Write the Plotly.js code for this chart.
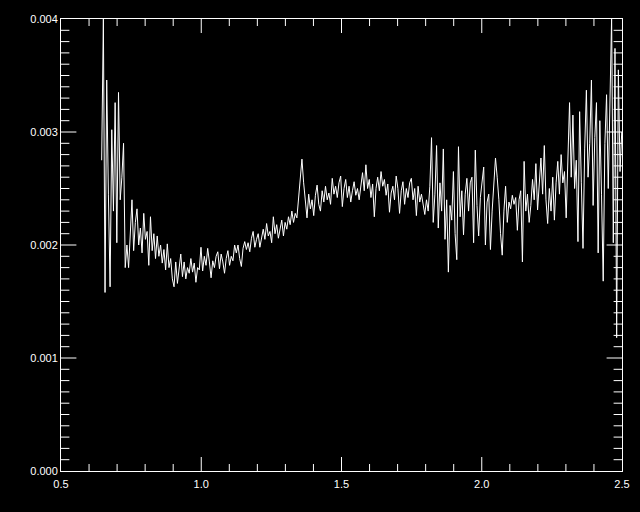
<!DOCTYPE html>
<html>
<head>
<meta charset="utf-8">
<script src="https://cdn.plot.ly/plotly-3.0.1.min.js"></script>
<style>
html,body{margin:0;padding:0;background:#000;}
#chart{width:640px;height:512px;}
</style>
</head>
<body>
<div id="chart"></div>
<script>
// Spectrum sampled on a uniform wavelength grid (start + step handled by Plotly x0/dx)
const waveStart = 0.645;
const waveStep = 0.006;

const fluxA = [0.00275,0.00400,0.00158,0.00346,0.00245,0.00163,0.00302,0.00230,0.00326,0.00202,0.00335,0.00240,0.00260,0.00290,0.00180];
const fluxB = [0.00200,0.00180,0.00215,0.00240,0.00195,0.00220,0.00232,0.00200,0.00215,0.00193,0.00228,0.00205,0.00212,0.00182,0.00225,0.00195,0.00210,0.00188,0.00208,0.00190,0.00200,0.00184,0.00196,0.00178,0.00201,0.00180,0.00188,0.00170,0.00163,0.00185,0.00166,0.00180];
const fluxC = [0.00192,0.00172,0.00185,0.00170,0.00180,0.00175,0.00188,0.00176,0.00184,0.00167,0.00180,0.00178,0.00198,0.00177,0.00190,0.00182,0.00197,0.00185,0.00171,0.00186,0.00180,0.00190,0.00194,0.00179,0.00192,0.00185,0.00175,0.00188,0.00195,0.00182,0.00190,0.00186,0.00200,0.00193,0.00200,0.00188,0.00181,0.00197,0.00203,0.00196,0.00202,0.00194,0.00206,0.00212];
const fluxD = [0.00198,0.00205,0.00210,0.00198,0.00208,0.00214,0.00205,0.00219,0.00208,0.00212,0.00202,0.00225,0.00210,0.00218,0.00206,0.00215,0.00222,0.00208,0.00220,0.00214,0.00225,0.00218,0.00230,0.00220,0.00228,0.00224,0.00240,0.00262,0.00276];
const fluxE = [0.00255,0.00238,0.00224,0.00245,0.00232,0.00240,0.00226,0.00244,0.00253,0.00236,0.00230,0.00248,0.00238,0.00252,0.00240,0.00246,0.00236,0.00259,0.00245,0.00252,0.00242,0.00255,0.00261,0.00234,0.00250,0.00258,0.00242,0.00252,0.00238,0.00248,0.00256,0.00244,0.00250,0.00240,0.00255,0.00264,0.00248,0.00271,0.00250,0.00258,0.00242,0.00254,0.00225,0.00250,0.00260,0.00248,0.00265,0.00252,0.00258,0.00244,0.00254,0.00229,0.00246,0.00252,0.00240,0.00261,0.00250,0.00228,0.00248,0.00256,0.00236,0.00250,0.00242,0.00255,0.00259,0.00240,0.00250,0.00226,0.00252,0.00238,0.00245,0.00236,0.00227];
const fluxF = [0.00240,0.00230,0.00252,0.00295,0.00220,0.00245,0.00288,0.00215,0.00255,0.00230,0.00285,0.00205,0.00240,0.00176,0.00235,0.00222,0.00265,0.00210,0.00187,0.00287,0.00225,0.00248,0.00209,0.00245,0.00259,0.00230,0.00255,0.00260,0.00202,0.00284,0.00235,0.00208,0.00242,0.00255,0.00269,0.00200,0.00238,0.00245,0.00196,0.00230,0.00250,0.00277,0.00260,0.00240,0.00210,0.00191,0.00230,0.00252,0.00220,0.00238,0.00232,0.00244,0.00236,0.00242,0.00213,0.00240,0.00248,0.00185,0.00274,0.00230,0.00245,0.00220,0.00235,0.00258,0.00240,0.00272,0.00231,0.00255,0.00277,0.00245,0.00288];
const fluxG = [0.00240,0.00219,0.00250,0.00230,0.00260,0.00222,0.00255,0.00274,0.00245,0.00280,0.00255,0.00265,0.00224,0.00270,0.00326,0.00260,0.00315,0.00250,0.00275,0.00203,0.00318,0.00255,0.00197,0.00285,0.00337,0.00260,0.00290,0.00346,0.00235,0.00295,0.00326,0.00193,0.00310,0.00245,0.00168,0.00290,0.00333,0.00250,0.00336,0.00402,0.00202,0.00374,0.00118,0.00355,0.00265,0.00300];

const flux = [].concat(fluxA, fluxB, fluxC, fluxD, fluxE, fluxF, fluxG);

const xRange = [0.5, 2.5];
const yRange = [0, 0.004];

// tick positions (data values)
const xMajorTicks = [1.0, 1.5, 2.0];
const xMinorTicks = [0.6, 0.7, 0.8, 0.9, 1.1, 1.2, 1.3, 1.4, 1.6, 1.7, 1.8, 1.9, 2.1, 2.2, 2.3, 2.4];
const yMajorTicks = [0.001, 0.002, 0.003];
const yMinorTicks = [0.0001, 0.0002, 0.0003, 0.0004, 0.0005, 0.0006, 0.0007, 0.0008, 0.0009,
                     0.0011, 0.0012, 0.0013, 0.0014, 0.0015, 0.0016, 0.0017, 0.0018, 0.0019,
                     0.0021, 0.0022, 0.0023, 0.0024, 0.0025, 0.0026, 0.0027, 0.0028, 0.0029,
                     0.0031, 0.0032, 0.0033, 0.0034, 0.0035, 0.0036, 0.0037, 0.0038, 0.0039];

const tickFont = {family: 'Liberation Sans, Arial, sans-serif', size: 11, color: '#ffffff'};

const spectrum = {
  type: 'scatter',
  mode: 'lines',
  x0: waveStart,
  dx: waveStep,
  y: flux,
  line: {color: '#ffffff', width: 1},
  hoverinfo: 'skip'
};

// Tick marks drawn as line markers sitting on the frame; the half outside the plot area is clipped away.
function xTickTrace(vals, len) {
  return {
    type: 'scatter', mode: 'markers', cliponaxis: true, hoverinfo: 'skip',
    x: vals.concat(vals),
    y: vals.map(() => yRange[0]).concat(vals.map(() => yRange[1])),
    marker: {symbol: 'line-ns', size: 2 * len, color: '#ffffff', line: {color: '#ffffff', width: 1}}
  };
}
function yTickTrace(vals, len) {
  return {
    type: 'scatter', mode: 'markers', cliponaxis: true, hoverinfo: 'skip',
    x: vals.map(() => xRange[0]).concat(vals.map(() => xRange[1])),
    y: vals.concat(vals),
    marker: {symbol: 'line-ew', size: 2 * len, color: '#ffffff', line: {color: '#ffffff', width: 1}}
  };
}

const traces = [
  spectrum,
  xTickTrace(xMajorTicks, 10),
  xTickTrace(xMinorTicks, 5),
  yTickTrace(yMajorTicks, 11),
  yTickTrace(yMinorTicks, 6)
];

const axisCommon = {
  showline: true, linecolor: '#ffffff', linewidth: 1, mirror: true,
  showgrid: false, zeroline: false, ticks: '', tickfont: tickFont
};

const layout = {
  width: 640,
  height: 512,
  paper_bgcolor: '#000000',
  plot_bgcolor: '#000000',
  margin: {l: 61, r: 18, t: 19, b: 41},
  showlegend: false,
  xaxis: Object.assign({}, axisCommon, {
    range: xRange, tickmode: 'linear', tick0: 0.5, dtick: 0.5, tickformat: '.1f', ticklabelstandoff: 3
  }),
  yaxis: Object.assign({}, axisCommon, {
    range: yRange, tickmode: 'linear', tick0: 0, dtick: 0.001, tickformat: '.3f'
  })
};

Plotly.newPlot('chart', traces, layout, {displayModeBar: false});
</script>
</body>
</html>
